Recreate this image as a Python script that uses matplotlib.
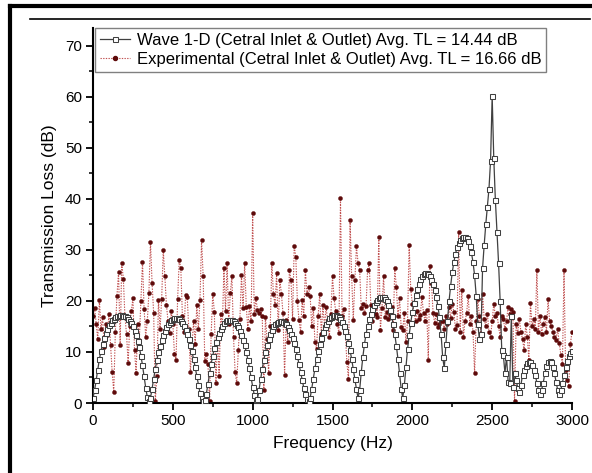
import numpy as np
import matplotlib
matplotlib.use("Agg")
import matplotlib.pyplot as plt
from matplotlib.lines import Line2D
from matplotlib.ticker import MultipleLocator

plt.rcParams['font.family'] = ['Liberation Sans', 'DejaVu Sans']

freq_start, freq_stop, freq_step = 0, 3000, 10

wave_tl = [
    1.0, 2.5, 4.5, 6.5, 8.6, 10.2, 11.6, 12.7, 13.7, 14.5,
    15.2, 15.7, 16.2, 16.5, 16.8, 17.0, 17.1, 17.2, 17.2, 17.1,
    17.0, 16.8, 16.5, 16.1, 15.6, 15.0, 14.2, 13.3, 12.2, 10.9,
    9.3, 7.4, 5.2, 3.0, 1.2, 0.3, 1.0, 2.8, 4.8, 6.7,
    8.4, 9.9, 11.2, 12.3, 13.3, 14.1, 14.8, 15.4, 15.9, 16.3,
    16.5, 16.7, 16.7, 16.6, 16.4, 16.1, 15.7, 15.1, 14.4, 13.6,
    12.6, 11.4, 10.1, 8.6, 7.0, 5.3, 3.6, 2.0, 0.9, 0.3,
    0.5, 1.8, 3.8, 5.8, 7.7, 9.3, 10.7, 11.9, 12.9, 13.8,
    14.5, 15.1, 15.6, 16.0, 16.2, 16.3, 16.3, 16.2, 16.0, 15.7,
    15.3, 14.8, 14.1, 13.3, 12.4, 11.3, 10.0, 8.5, 6.8, 5.0,
    3.2, 1.6, 0.5, 0.8, 2.6, 4.7, 6.7, 8.5, 10.0, 11.4,
    12.5, 13.5, 14.3, 15.0, 15.4, 15.7, 15.9, 16.0, 16.0, 15.9,
    15.7, 15.4, 14.9, 14.3, 13.6, 12.7, 11.7, 10.5, 9.2, 7.7,
    6.1, 4.5, 3.0, 1.7, 0.7, 0.4, 1.0, 2.8, 4.8, 6.8,
    8.6, 10.2, 11.6, 12.8, 13.9, 14.8, 15.5, 16.1, 16.6, 16.9,
    17.1, 17.2, 17.2, 17.1, 16.8, 16.4, 15.8, 15.1, 14.2, 13.1,
    11.8, 10.3, 8.6, 6.7, 4.7, 2.7, 1.0, 2.5, 6.0, 9.0,
    11.5, 13.5, 15.1, 16.4, 17.5, 18.4, 19.2, 19.8, 20.2, 20.5,
    20.7, 20.8, 20.7, 20.4, 19.9, 19.2, 18.2, 17.0, 15.4, 13.5,
    11.2, 8.6, 5.8, 2.8, 1.0, 3.5, 7.0, 10.5, 13.3, 15.7,
    17.8, 19.6, 21.1, 22.4, 23.4, 24.3, 24.9, 25.3, 25.5, 25.5,
    25.3, 24.9, 24.2, 23.3, 22.2, 20.8, 19.0, 16.8, 13.5, 9.0,
    6.8, 11.5, 16.0, 20.0, 23.0, 25.6, 27.6, 29.2, 30.5, 31.4,
    32.0, 32.4, 32.6, 32.6, 32.3, 31.8, 30.8, 29.5, 27.6, 25.0,
    21.0, 15.5, 12.5, 13.5, 26.5, 31.0, 35.0, 38.5, 42.0, 47.5,
    60.2, 48.0, 39.8, 33.5, 27.5, 20.0, 10.4, 9.4, 5.9, 9.0,
    4.1, 3.9, 17.0, 3.2, 5.9, 4.5, 3.0, 2.2, 3.5, 5.5,
    6.5, 7.3, 7.8, 8.0, 8.0, 7.5, 6.5, 5.5, 4.0, 2.5,
    1.8, 2.6, 4.0, 5.8, 7.2, 8.0, 8.3, 8.0, 7.0, 5.8,
    4.2, 2.6, 1.8, 2.5, 4.0, 5.5, 7.0, 8.2, 9.2, 9.8,
    10.2,
]

exp_tl = [
    17.0, 18.6, 15.5, 12.5, 20.2, 14.5, 16.9, 11.0, 15.5, 13.3,
    17.5, 11.4, 6.1, 2.2, 14.0, 21.0, 25.7, 11.4, 27.4, 24.4,
    16.9, 13.5, 7.8, 15.0, 18.0, 20.5, 10.4, 5.8, 15.5, 12.4,
    20.0, 27.7, 18.5, 13.0, 16.0, 21.5, 31.6, 23.5, 17.6, 0.3,
    5.2, 20.2, 14.5, 20.3, 30.0, 24.8, 19.2, 16.0, 13.7, 18.0,
    15.5, 9.7, 8.4, 20.4, 28.0, 26.4, 17.0, 14.0, 21.2, 20.8,
    14.5, 6.1, 11.4, 16.0, 11.6, 19.2, 14.5, 20.2, 32.0, 24.8,
    8.2, 9.7, 7.6, 0.3, 13.5, 21.4, 17.9, 3.9, 12.5, 5.2,
    17.5, 14.9, 26.4, 18.0, 27.4, 15.5, 21.6, 24.8, 13.0, 6.1,
    3.9, 10.4, 16.5, 25.1, 18.6, 27.4, 18.8, 14.5, 19.0, 16.0,
    37.2, 17.5, 20.5, 18.3, 17.6, 18.5, 17.0, 2.5, 16.9, 12.5,
    5.8, 15.0, 27.4, 21.4, 19.2, 25.4, 14.3, 24.2, 21.4, 17.6,
    5.5, 16.3, 12.0, 26.1, 24.1, 16.5, 30.7, 28.7, 20.0, 16.3,
    14.0, 20.2, 17.0, 26.1, 21.4, 22.7, 21.0, 15.0, 18.6, 12.0,
    10.6, 17.0, 21.4, 13.5, 19.2, 15.0, 18.8, 16.0, 13.0, 17.5,
    24.8, 20.5, 18.0, 15.5, 13.7, 40.1, 17.1, 18.5, 14.0, 8.0,
    4.7, 35.9, 24.9, 16.3, 24.1, 30.7, 27.5, 26.1, 18.6, 19.5,
    17.6, 19.0, 26.1, 27.4, 19.2, 16.0, 18.5, 17.5, 16.8, 32.6,
    14.3, 18.6, 24.9, 16.9, 17.8, 16.5, 17.2, 18.8, 14.3, 26.4,
    22.7, 17.0, 20.5, 14.9, 14.3, 17.6, 12.0, 16.0, 31.0, 22.3,
    19.5, 17.9, 16.0, 18.0, 16.5, 17.2, 20.8, 17.6, 16.0, 18.3,
    8.4, 26.8, 23.5, 17.6, 15.7, 17.5, 14.9, 15.5, 16.0, 16.1,
    14.5, 17.0, 15.5, 18.8, 16.7, 19.5, 17.9, 14.5, 15.3, 33.5,
    14.0, 22.2, 13.0, 16.0, 17.6, 21.0, 15.5, 17.0, 14.0, 5.8,
    16.0, 20.4, 17.0, 13.5, 21.4, 16.5, 15.0, 17.5, 14.0, 13.0,
    16.0, 19.5, 17.0, 17.6, 15.0, 13.0, 17.0, 16.5, 14.5, 16.1,
    18.9, 17.5, 18.5, 17.8, 0.3, 15.5, 13.7, 16.5, 14.0, 12.5,
    10.4, 15.5, 13.0, 8.4, 19.6, 15.0, 16.5, 14.5, 26.1, 14.0,
    17.0, 13.5, 15.5, 16.9, 14.0, 20.3, 16.0, 15.0, 14.0, 13.0,
    12.4, 14.5, 11.8, 9.5, 7.7, 26.1, 6.5, 4.6, 3.3, 11.6,
    14.0,
]

label_wave = "Wave 1-D (Cetral Inlet & Outlet) Avg. TL = 14.44 dB"
label_exp = "Experimental (Cetral Inlet & Outlet) Avg. TL = 16.66 dB"

freq = np.arange(freq_start, freq_stop + freq_step, freq_step)

W, H = 592, 473
fig = plt.figure(figsize=(W / 100, H / 100), dpi=100)
ax = fig.add_axes([93 / W, 1 - 403 / H, (572 - 93) / W, (403 - 28) / H])

wave_col = '#404040'
exp_line = '#c05050'
exp_mark = '#5e0a0a'

ax.plot(freq, exp_tl, linestyle=(0, (1.2, 1.2)), color=exp_line, linewidth=0.8,
        marker='o', markersize=2.9, markerfacecolor=exp_mark,
        markeredgecolor=exp_mark, markeredgewidth=0.3, zorder=2)
ax.plot(freq, wave_tl, linestyle='-', color=wave_col, linewidth=0.9,
        marker='s', markersize=3.6, markerfacecolor='white',
        markeredgecolor=wave_col, markeredgewidth=0.75, zorder=3)

ax.set_xlim(0, 3000)
ax.set_ylim(0, 73.5)
ax.xaxis.set_major_locator(MultipleLocator(500))
ax.xaxis.set_minor_locator(MultipleLocator(250))
ax.yaxis.set_major_locator(MultipleLocator(10))
ax.yaxis.set_minor_locator(MultipleLocator(5))
for s in ['top', 'right']:
    ax.spines[s].set_visible(False)
for s in ['left', 'bottom']:
    ax.spines[s].set_linewidth(1.5)
    ax.spines[s].set_color('black')
ax.tick_params(which='major', direction='out', length=5, width=1.3, labelsize=11, pad=3)
ax.tick_params(which='minor', direction='out', length=3, width=1.1)
ax.set_xlabel("Frequency (Hz)", fontsize=12.5, labelpad=6)
ax.set_ylabel("Transmission Loss (dB)", fontsize=12.5, labelpad=6)

h1 = Line2D([], [], linestyle='-', color=wave_col, linewidth=0.9, marker='s',
            markersize=3.6, markerfacecolor='white', markeredgecolor=wave_col,
            markeredgewidth=0.75)
h2 = Line2D([], [], linestyle=(0, (1.2, 1.2)), color=exp_line, linewidth=0.8, marker='o',
            markersize=2.9, markerfacecolor=exp_mark, markeredgecolor=exp_mark)
leg = ax.legend([h1, h2], [label_wave, label_exp], loc='upper left',
                bbox_to_anchor=(0.004, 1.0), fontsize=12, frameon=True,
                fancybox=False, framealpha=1, edgecolor='#808080',
                handlelength=1.8, handletextpad=0.4, borderpad=0.3,
                labelspacing=0.22, borderaxespad=0.0, numpoints=1)
leg.get_frame().set_linewidth(1.0)

# outer frame decoration
fig.add_artist(Line2D([10 / W, 10 / W], [0, 1 - 6 / H], transform=fig.transFigure,
                      color='black', linewidth=3))
fig.add_artist(Line2D([10 / W, 1], [1 - 6 / H, 1 - 6 / H], transform=fig.transFigure,
                      color='black', linewidth=3))
fig.add_artist(Line2D([30 / W, 590 / W], [1 - 19 / H, 1 - 19 / H], transform=fig.transFigure,
                      color='black', linewidth=1.2))

fig.savefig("out.png", dpi=100)
